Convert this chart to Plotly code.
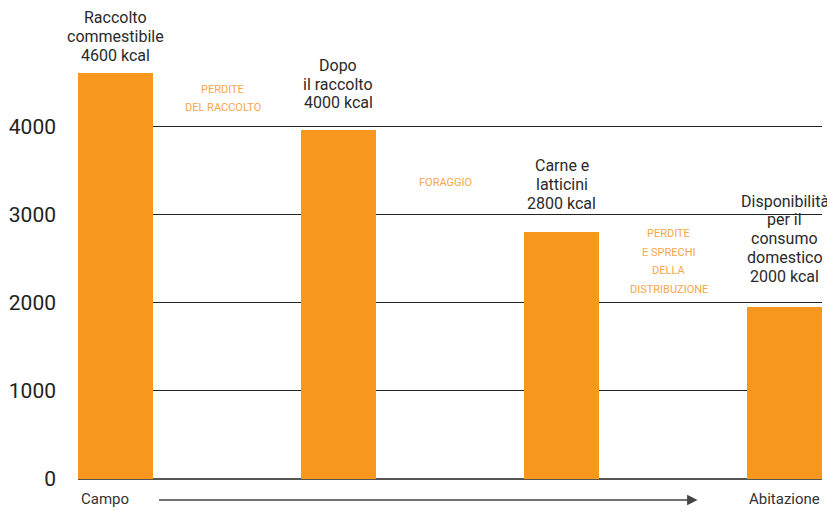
import plotly.graph_objects as go

# ---- data ----
stages = ["Raccolto commestibile", "Dopo il raccolto", "Carne e latticini", "Disponibilità per il consumo domestico"]
kcal = [4600, 3960, 2800, 1950]
bar_labels = [
    ["Raccolto", "commestibile", "4600 kcal"],
    ["Dopo", "il raccolto", "4000 kcal"],
    ["Carne e", "latticini", "2800 kcal"],
    ["Disponibilità", "per il", "consumo", "domestico", "2000 kcal"],
]
loss_labels = [
    ["PERDITE", "DEL RACCOLTO"],
    ["FORAGGIO"],
    ["PERDITE", "E SPRECHI", "DELLA", "DISTRIBUZIONE"],
]
y_ticks = [0, 1000, 2000, 3000, 4000]
axis_start = "Campo"
axis_end = "Abitazione"

BAR = "#F7971D"
LOSS = "#F8A54C"
TXT = "#2a2a2a"
FONT = "Roboto"

xs = list(range(len(stages)))

fig = go.Figure()
fig.add_trace(go.Bar(x=xs, y=kcal, width=0.336, marker=dict(color=BAR, line=dict(width=0)),
                     hoverinfo="skip", showlegend=False))

annotations = []
# bar labels (line by line)
gaps = [18, 27, 29, 31]
ls = 18.7
for i, lines in enumerate(bar_labels):
    n = len(lines)
    for j, t in enumerate(lines):
        k = n - 1 - j
        annotations.append(dict(x=xs[i], y=kcal[i], xref="x", yref="y", text=t, showarrow=False,
                                xanchor="center", yanchor="middle", yshift=gaps[i] + k * ls,
                                font=dict(family=FONT, size=16, color=TXT)))

# loss labels between bars
loss_shift = [3, -2, 8]
lsl = 18.8
for i, lines in enumerate(loss_labels):
    n = len(lines)
    mid = (kcal[i] + kcal[i + 1]) / 2
    for j, t in enumerate(lines):
        off = ((n - 1) / 2 - j) * lsl
        annotations.append(dict(x=xs[i] + 0.48, y=mid, xref="x", yref="y", text=t, showarrow=False,
                                xanchor="center", yanchor="middle", yshift=loss_shift[i] + off,
                                font=dict(family=FONT, size=11, color=LOSS)))

# bottom axis labels
annotations.append(dict(x=0, y=0, xref="paper", yref="y", text=axis_start, showarrow=False,
                        xanchor="left", yanchor="middle", yshift=-20, xshift=1,
                        font=dict(family=FONT, size=15, color="#333333")))
annotations.append(dict(x=1, y=0, xref="paper", yref="y", text=axis_end, showarrow=False,
                        xanchor="right", yanchor="middle", yshift=-20,
                        font=dict(family=FONT, size=15, color="#333333")))
# arrow
annotations.append(dict(x=2.61, y=-0.0476, xref="x", yref="paper", ax=-540, ay=0,
                        text="", showarrow=True, arrowhead=2,
                        arrowsize=1.3, arrowwidth=1.6, arrowcolor="#444444"))

fig.update_layout(
    width=827, height=511,
    margin=dict(l=78, r=5, t=38, b=32),
    paper_bgcolor="white", plot_bgcolor="white",
    bargap=0,
    annotations=annotations,
    xaxis=dict(range=[-0.168, 3.168], showgrid=False, zeroline=False, showticklabels=False,
               showline=False, fixedrange=True),
    yaxis=dict(range=[0, 5000], tickvals=y_ticks, ticktext=[str(v) for v in y_ticks],
               showgrid=True, gridcolor="#222222", gridwidth=1,
               zeroline=True, zerolinecolor="#555555", zerolinewidth=1.5,
               showline=False, ticks="", ticklabelstandoff=21,
               tickfont=dict(family=FONT, size=21, color="#222222"), fixedrange=True),
)

fig.write_html("out.html", config={"displayModeBar": False},
               post_script="document.body.style.margin='0px';document.body.style.overflow='hidden';")
